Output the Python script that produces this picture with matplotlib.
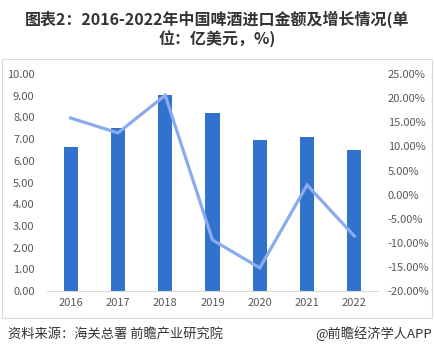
import matplotlib.pyplot as plt
from matplotlib.patches import Rectangle

plt.rcParams['font.family'] = ['Noto Sans CJK SC', 'DejaVu Sans']

years = ['2016', '2017', '2018', '2019', '2020', '2021', '2022']
import_value = [6.64, 7.51, 9.05, 8.20, 6.96, 7.10, 6.50]   # 亿美元
growth_pct = [15.9, 12.8, 20.6, -9.4, -15.2, 2.0, -8.6]     # %

bar_color = '#3173cc'
line_color = '#8aabed'
tick_color = '#595959'

fig = plt.figure(figsize=(4.34, 3.58), dpi=100)
ax = fig.add_axes([0.1083, 0.187, 0.7627, 0.606])
ax2 = ax.twinx()

x = range(len(years))
ax.bar(x, import_value, width=0.3, color=bar_color, zorder=2)
ax2.plot(x, growth_pct, color=line_color, lw=2.3, solid_joinstyle='miter', zorder=3)

ax.set_xlim(-0.5, len(years) - 0.5)
ax.set_ylim(0, 10)
ax.set_yticks([i for i in range(11)])
ax.set_yticklabels([f'{i:.2f}' for i in range(11)])
ax2.set_ylim(-20, 25)
ax2.set_yticks(list(range(-20, 30, 5)))
ax2.set_yticklabels([f'{v:.2f}%' for v in range(-20, 30, 5)])
ax.set_xticks(list(x))
ax.set_xticklabels(years)

for a in (ax, ax2):
    for s in a.spines.values():
        s.set_visible(False)
    a.tick_params(length=0, labelsize=8, colors=tick_color)
ax.spines['bottom'].set_visible(True)
ax.spines['bottom'].set_color('#d9d9d9')
ax.tick_params(axis='y', pad=9)
ax.tick_params(axis='x', pad=5)
ax2.tick_params(axis='y', pad=7)
ax2.set_zorder(ax.get_zorder() + 1)
ax2.patch.set_visible(False)

# chart frame
fig.patches.append(Rectangle((2 / 434, 1 - 318 / 358), 430 / 434, 259 / 358,
                             transform=fig.transFigure, fill=False,
                             edgecolor='#d9d9d9', lw=0.8))

fig.text(0.5, 1 - 19 / 358, '图表2：2016-2022年中国啤酒进口金额及增长情况(单',
         ha='center', va='center', fontsize=11.5, fontweight='bold', color='#333333')
fig.text(0.5, 1 - 39 / 358, '位：亿美元，%)',
         ha='center', va='center', fontsize=11.5, fontweight='bold', color='#333333')
fig.text(8 / 434, 1 - 334 / 358, '资料来源：海关总署 前瞻产业研究院',
         ha='left', va='center', fontsize=9.5, color='#333333')
fig.text(432 / 434, 1 - 334 / 358, '@前瞻经济学人APP',
         ha='right', va='center', fontsize=9.5, color='#333333')

fig.savefig('out.png', dpi=100)
